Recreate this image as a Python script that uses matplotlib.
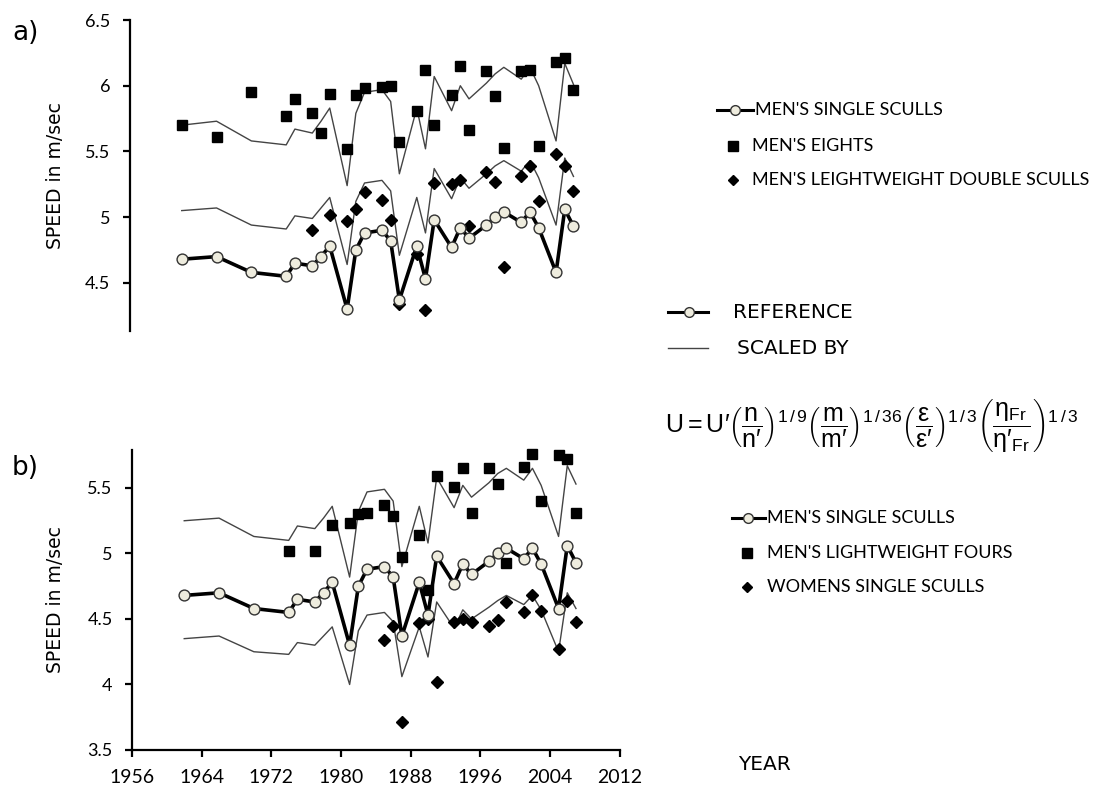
import matplotlib
matplotlib.use("Agg")
import matplotlib.pyplot as plt
from matplotlib.lines import Line2D

plt.rcParams['mathtext.fontset'] = 'custom'
plt.rcParams['mathtext.rm'] = 'Liberation Sans'
plt.rcParams['mathtext.it'] = 'Liberation Sans'
plt.rcParams['mathtext.bf'] = 'Liberation Sans:bold'

# ---------------- data ----------------
years = [1962, 1966, 1970, 1974, 1975, 1977, 1978, 1979, 1981, 1982, 1983, 1985, 1986,
         1987, 1989, 1990, 1991, 1993, 1994, 1995, 1997, 1998, 1999, 2001, 2002, 2003,
         2005, 2006, 2007]

mens_single = [4.68, 4.70, 4.58, 4.55, 4.65, 4.63, 4.70, 4.78, 4.30, 4.75, 4.88, 4.90, 4.82,
               4.37, 4.78, 4.53, 4.98, 4.77, 4.92, 4.84, 4.94, 5.00, 5.04, 4.96, 5.04, 4.92,
               4.58, 5.06, 4.93]

# scaled reference curves (thin lines)
eights_scaled = [5.70, 5.73, 5.58, 5.55, 5.67, 5.64, 5.73, 5.83, 5.24, 5.79, 5.95, 5.97, 5.88,
                 5.33, 5.83, 5.52, 6.07, 5.81, 6.00, 5.90, 6.02, 6.09, 6.14, 6.05, 6.14, 6.00,
                 5.58, 6.17, 6.01]
lwdouble_scaled = [5.05, 5.07, 4.94, 4.91, 5.01, 4.99, 5.07, 5.15, 4.64, 5.12, 5.26, 5.28, 5.20,
                   4.71, 5.15, 4.88, 5.37, 5.14, 5.30, 5.22, 5.33, 5.39, 5.43, 5.35, 5.43, 5.30,
                   4.94, 5.45, 5.31]
lwfours_scaled = [5.25, 5.27, 5.13, 5.10, 5.21, 5.19, 5.27, 5.36, 4.82, 5.32, 5.47, 5.49, 5.40,
                  4.90, 5.36, 5.08, 5.58, 5.35, 5.52, 5.43, 5.54, 5.61, 5.65, 5.56, 5.65, 5.52,
                  5.13, 5.67, 5.53]
women_scaled = [4.35, 4.37, 4.25, 4.23, 4.32, 4.30, 4.37, 4.44, 4.00, 4.41, 4.53, 4.55, 4.48,
                4.06, 4.44, 4.21, 4.63, 4.43, 4.57, 4.50, 4.59, 4.64, 4.68, 4.61, 4.68, 4.57,
                4.25, 4.70, 4.58]

# measured points
eights_years = years
eights = [5.70, 5.61, 5.95, 5.77, 5.90, 5.79, 5.64, 5.94, 5.52, 5.93, 5.98, 5.99, 6.00,
          5.57, 5.81, 6.12, 5.70, 5.93, 6.15, 5.66, 6.11, 5.92, 5.53, 6.11, 6.12, 5.54,
          6.18, 6.21, 5.97]

lwdouble_years = [1977, 1979, 1981, 1982, 1983, 1985, 1986, 1987, 1989, 1990, 1991, 1993, 1994,
                  1995, 1997, 1998, 1999, 2001, 2002, 2003, 2005, 2006, 2007]
lwdouble = [4.90, 5.02, 4.97, 5.06, 5.19, 5.13, 4.98, 4.34, 4.72, 4.29, 5.26, 5.25, 5.28,
            4.93, 5.34, 5.27, 4.62, 5.31, 5.39, 5.12, 5.48, 5.39, 5.20]

lwfours_years = [1974, 1977, 1979, 1981, 1982, 1983, 1985, 1986, 1987, 1989, 1990, 1991, 1993,
                 1994, 1995, 1997, 1998, 1999, 2001, 2002, 2003, 2005, 2006, 2007]
lwfours = [5.02, 5.02, 5.22, 5.23, 5.30, 5.31, 5.37, 5.29, 4.97, 5.14, 4.72, 5.59, 5.51,
           5.65, 5.31, 5.65, 5.53, 4.93, 5.66, 5.76, 5.40, 5.75, 5.72, 5.31]

women_years = [1985, 1986, 1987, 1989, 1990, 1991, 1993, 1994, 1995, 1997, 1998, 1999, 2001,
               2002, 2003, 2005, 2006, 2007]
women = [4.34, 4.45, 3.71, 4.47, 4.50, 4.02, 4.48, 4.50, 4.48, 4.45, 4.49, 4.63, 4.55,
         4.68, 4.56, 4.27, 4.64, 4.48]

xticks = [1956, 1964, 1972, 1980, 1988, 1996, 2004, 2012]
yticks_a = [4.5, 5, 5.5, 6, 6.5]
yticks_b = [3.5, 4, 4.5, 5, 5.5]

# ---------------- styles ----------------
W, H = 1096, 787
fig = plt.figure(figsize=(W / 100, H / 100), dpi=100)

TICK_FONT = 'Lato'
LEG_FONT = 'Lato'
ref_style = dict(color='black', lw=2.6, marker='o', ms=7.8, mfc='#eeecde', mec='#333333', mew=1.0,
                 clip_on=False)
thin_style = dict(color='#444444', lw=1.0, clip_on=False)
sq_style = dict(ls='none', marker='s', ms=7.5, color='black', clip_on=False)
di_style = dict(ls='none', marker='D', ms=5.8, color='black', clip_on=False)


def px_ax(l, t, r, b):
    return [l / W, 1 - b / H, (r - l) / W, (b - t) / H]


ax_a = fig.add_axes(px_ax(129.5, 20, 617, 331))
ax_b = fig.add_axes(px_ax(132, 450, 619.5, 750))

for ax in (ax_a, ax_b):
    for s in ('top', 'right'):
        ax.spines[s].set_visible(False)
    for s in ('left', 'bottom'):
        ax.spines[s].set_linewidth(1.6)
    ax.set_xlim(1956, 2012)
    ax.tick_params(axis='both', direction='out', length=5, width=1.6)
    ax.tick_params(axis='y', pad=9)

# panel a
ax_a.plot(years, eights_scaled, **thin_style)
ax_a.plot(years, lwdouble_scaled, **thin_style)
ax_a.plot(eights_years, eights, **sq_style)
ax_a.plot(lwdouble_years, lwdouble, **di_style)
ax_a.plot(years, mens_single, **ref_style)
ax_a.set_ylim(4.134, 6.5)
ax_a.set_yticks(yticks_a)
ax_a.set_yticklabels(['4.5', '5', '5.5', '6', '6.5'], fontfamily=TICK_FONT, fontsize=13)
ax_a.spines['bottom'].set_visible(False)
ax_a.set_xticks([])
ax_a.set_ylabel('SPEED in m/sec', fontsize=13.5, fontfamily='DejaVu Sans')

# panel b
ax_b.plot(years, lwfours_scaled, **thin_style)
ax_b.plot(years, women_scaled, **thin_style)
ax_b.plot(lwfours_years, lwfours, **sq_style)
ax_b.plot(women_years, women, **di_style)
ax_b.plot(years, mens_single, **ref_style)
ax_b.set_ylim(3.5, 5.79)
ax_b.set_yticks(yticks_b)
ax_b.set_yticklabels(['3.5', '4', '4.5', '5', '5.5'], fontfamily=TICK_FONT, fontsize=13)
ax_b.set_xticks(xticks)
ax_b.set_xticklabels([str(x) for x in xticks], fontfamily=TICK_FONT, fontsize=14)
ax_b.tick_params(axis='x', pad=9)
ax_b.set_ylabel('SPEED in m/sec', fontsize=13.5, fontfamily='DejaVu Sans')

ax_a.yaxis.set_label_coords((65 - 129.5) / (ax_a.get_position().width * W), 0.5)
ax_b.yaxis.set_label_coords((65 - 132) / (ax_b.get_position().width * W), 0.5)

# panel letters
fig.text(12 / W, 1 - 33 / H, 'a)', fontsize=19, fontfamily='DejaVu Sans', va='center', ha='left')
fig.text(12 / W, 1 - 468 / H, 'b)', fontsize=19, fontfamily='DejaVu Sans', va='center', ha='left')


# ---------------- legends (drawn in figure pixels) ----------------
def fx(x):
    return x / W


def fy(y):
    return 1 - y / H


def leg_line(x0, x1, y, style):
    fig.add_artist(Line2D([fx(x0), fx(x1)], [fy(y), fy(y)], transform=fig.transFigure, **style))


def leg_marker(x, y, style):
    fig.add_artist(Line2D([fx(x)], [fy(y)], transform=fig.transFigure, **style))


ref_leg = dict(color='black', lw=2.2, marker='o', ms=7, mfc='#eeecde', mec='#333333', mew=1.0,
               markevery=[1])
LEG_FS = 13

# legend a
fig.add_artist(Line2D([fx(717), fx(735), fx(753)], [fy(110)] * 3, transform=fig.transFigure, **ref_leg))
fig.text(fx(755), fy(110), "MEN'S SINGLE SCULLS", fontsize=LEG_FS, fontfamily=LEG_FONT, va='center')
leg_marker(733, 146, dict(ls='none', marker='s', ms=6.5, color='black'))
fig.text(fx(752), fy(146), "MEN'S EIGHTS", fontsize=LEG_FS, fontfamily=LEG_FONT, va='center')
leg_marker(733, 180, dict(ls='none', marker='D', ms=5, color='black'))
fig.text(fx(752), fy(180), "MEN'S LEIGHTWEIGHT DOUBLE SCULLS", fontsize=LEG_FS, fontfamily=LEG_FONT,
         va='center')

# middle legend
fig.add_artist(Line2D([fx(668), fx(689), fx(708)], [fy(312)] * 3, transform=fig.transFigure, **ref_leg))
fig.text(fx(733), fy(312), 'REFERENCE', fontsize=14.5, fontfamily='DejaVu Sans', va='center')
leg_line(668, 708, 348, dict(color='#444444', lw=1.0))
fig.text(fx(737), fy(348), 'SCALED BY', fontsize=14.5, fontfamily='DejaVu Sans', va='center')

P = "\u2032"
formula = (r"$\mathrm{U = U" + P + r"}\left(\dfrac{\mathrm{n}}{\mathrm{n" + P + r"}}\right)^{1\,/\,9}"
           r"\left(\dfrac{\mathrm{m}}{\mathrm{m" + P + r"}}\right)^{1\,/\,36}"
           r"\left(\dfrac{\varepsilon}{\varepsilon" + P + r"}\right)^{1\,/\,3}"
           r"\left(\dfrac{\eta_{\mathrm{Fr}}}{\eta" + P + r"_{\mathrm{Fr}}}\right)^{1\,/\,3}$")
fig.text(fx(665), fy(425), formula, fontsize=18, va='center', ha='left')

# legend b
fig.add_artist(Line2D([fx(732), fx(748), fx(765)], [fy(518)] * 3, transform=fig.transFigure, **ref_leg))
fig.text(fx(767), fy(518), "MEN'S SINGLE SCULLS", fontsize=LEG_FS, fontfamily=LEG_FONT, va='center')
leg_marker(747, 553, dict(ls='none', marker='s', ms=6.5, color='black'))
fig.text(fx(767), fy(553), "MEN'S LIGHTWEIGHT FOURS", fontsize=LEG_FS, fontfamily=LEG_FONT, va='center')
leg_marker(747, 587, dict(ls='none', marker='D', ms=5, color='black'))
fig.text(fx(767), fy(587), "WOMENS SINGLE SCULLS", fontsize=LEG_FS, fontfamily=LEG_FONT, va='center')

fig.text(fx(738), fy(765), 'YEAR', fontsize=14.5, fontfamily='DejaVu Sans', va='center', ha='left')

fig.savefig('out.png', dpi=100)
